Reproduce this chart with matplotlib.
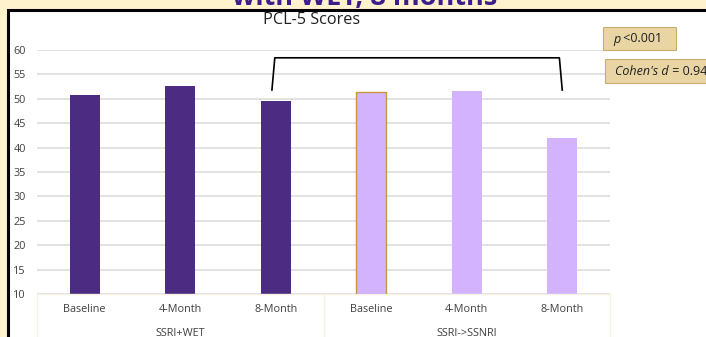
import matplotlib
matplotlib.use("Agg")
import matplotlib.pyplot as plt
from matplotlib.patches import Rectangle
import numpy as np

plt.rcParams['font.family'] = ['Open Sans', 'DejaVu Sans']

# data
groups = ["SSRI+WET", "SSRI->SSNRI"]
timepoints = ["Baseline", "4-Month", "8-Month"]
wet_scores = [50.8, 52.6, 49.5]
ssnri_scores = [51.4, 51.6, 41.9]
stat_boxes = [("p", " <0.001"), ("Cohen's d", " = 0.94")]

W, H = 706, 337
fig = plt.figure(figsize=(W / 100, H / 100), dpi=100)
fig.patch.set_facecolor("#FFF2CC")

def px(x, y):
    # pixel (from top-left) -> figure fraction
    return x / W, 1 - y / H

# white slide panel with black border
x0, y0 = px(8, H)
fig.patches.append(Rectangle((x0, y0 - 0.01), 1.2, (H - 9.5) / H + 0.01, transform=fig.transFigure,
                             facecolor="white", edgecolor="black", linewidth=2.2, zorder=-1))

# cut-off slide heading
fig.text(365 / W, 1 - 5 / H, "with WET, 8 months", ha="center", va="baseline",
         fontsize=19.5, fontweight="bold", color="#3B1E8C", zorder=-2)

ax = fig.add_axes([37 / W, 43 / H, (610 - 37) / W, (294 - 50) / H], zorder=1)
ax.set_facecolor("none")

x = np.arange(len(timepoints) * len(groups))
bw = 0.31
ax.bar(x[:3], wet_scores, bw, color="#4B2C82", zorder=2)
ax.bar(x[3:], ssnri_scores, bw, color="#D4B3FE", zorder=2)
# the first light bar has a gold outline
ax.bar(x[3], ssnri_scores[0], bw, color="#D4B3FE", edgecolor="#C8963C", linewidth=1.0, zorder=3)

ax.set_xlim(-0.5, 5.5)
ax.set_ylim(10, 60)
ax.set_yticks(range(10, 61, 5))
ax.yaxis.grid(True, color="#DADADA", linewidth=1.1)
ax.set_axisbelow(True)
for s in ax.spines.values():
    s.set_visible(False)
ax.tick_params(axis="y", length=0, pad=8, labelsize=7.8, labelcolor="#404040")
ax.set_xticks(x)
ax.set_xticklabels(timepoints * 2, fontsize=7.8, color="#404040")
ax.tick_params(axis="x", length=0, pad=7)

# bottom category axis line and group separators
ax.axhline(10, color="#F7F1E3", linewidth=1, clip_on=False)
for xs in [-0.5, 2.5, 5.5]:
    ax.plot([xs, xs], [10, 1.0], color="#F7F1E3", linewidth=1, clip_on=False)
for i, g in enumerate(groups):
    ax.text(1 + 3 * i, 2.0, g, ha="center", va="center", fontsize=7.8, color="#404040",
            clip_on=False)

# significance bracket
bl, br, btop, bbot = 1.96, 5.0, 58.4, 51.8
ax.plot([bl, bl + 0.03, br - 0.03, br], [bbot, btop, btop, bbot],
        color="black", linewidth=1.2, clip_on=False, zorder=4)

ax.set_title("PCL-5 Scores", fontsize=11.7, color="#202020", pad=19, x=0.48)

# stat boxes
renderer = fig.canvas.get_renderer()
for (l, t, r, b), (it_part, rest) in zip([(603, 27, 676, 50), (605, 59, 720, 83)], stat_boxes):
    fx, fy = px(l, b)
    fig.patches.append(Rectangle((fx, fy), (r - l) / W, (b - t) / H, transform=fig.transFigure,
                                 facecolor="#E9D4A3", edgecolor="#C9AE6E", linewidth=0.8, zorder=5))
    tx, ty = px(l + 10, (t + b) / 2 + 0.5)
    t1 = fig.text(tx, ty, it_part, ha="left", va="center", fontsize=9, style="italic",
                  color="#202020", zorder=6)
    ext = t1.get_window_extent(renderer)
    fig.text(ext.x1 / W, ty, rest, ha="left", va="center", fontsize=9,
             color="#202020", zorder=6)

fig.savefig("out.png", dpi=100, facecolor=fig.get_facecolor())
